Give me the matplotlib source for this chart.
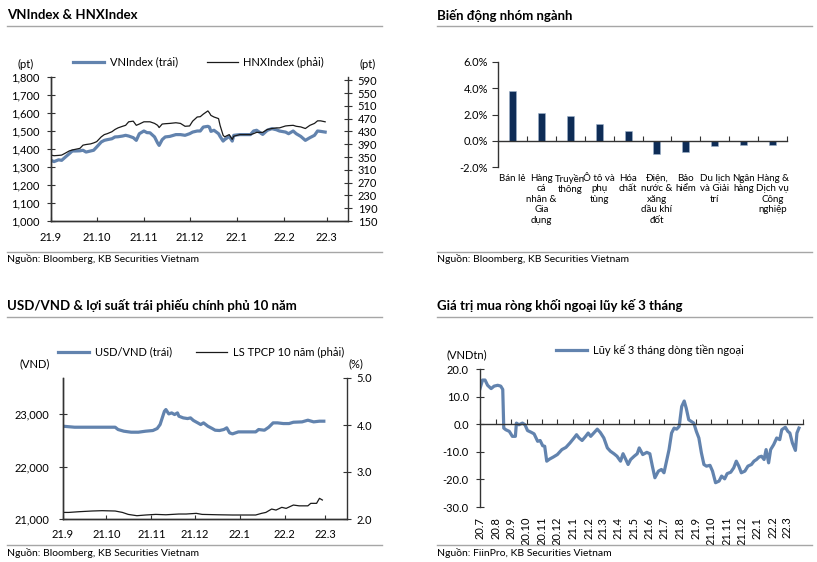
import matplotlib
matplotlib.use("Agg")
import matplotlib.pyplot as plt
import matplotlib.transforms as mtransforms
import pandas as pd
from matplotlib.lines import Line2D
from matplotlib.ticker import FuncFormatter

plt.rcParams["font.family"] = ["Lato", "Noto Sans", "DejaVu Sans"]

W, H = 817, 562

# VNIndex & HNXIndex
index_dates = [
    "2021-09-01", "2021-09-03", "2021-09-06", "2021-09-08", "2021-09-10", "2021-09-13",
    "2021-09-15", "2021-09-17", "2021-09-20", "2021-09-22", "2021-09-24", "2021-09-27",
    "2021-09-29", "2021-10-01", "2021-10-04", "2021-10-06", "2021-10-08", "2021-10-11",
    "2021-10-13", "2021-10-15", "2021-10-18", "2021-10-20", "2021-10-22", "2021-10-25",
    "2021-10-27", "2021-10-29", "2021-11-01", "2021-11-03", "2021-11-05", "2021-11-08",
    "2021-11-10", "2021-11-11", "2021-11-13", "2021-11-15", "2021-11-18", "2021-11-22",
    "2021-11-25", "2021-11-28", "2021-12-01", "2021-12-03", "2021-12-06", "2021-12-08",
    "2021-12-10", "2021-12-13", "2021-12-14", "2021-12-15", "2021-12-17", "2021-12-20",
    "2021-12-21", "2021-12-23", "2021-12-24", "2021-12-27", "2021-12-29", "2021-12-30",
    "2022-01-03", "2022-01-06", "2022-01-10", "2022-01-12", "2022-01-14", "2022-01-18",
    "2022-01-21", "2022-01-24", "2022-01-27", "2022-01-29", "2022-02-02", "2022-02-04",
    "2022-02-07", "2022-02-09", "2022-02-12", "2022-02-15", "2022-02-18", "2022-02-21",
    "2022-02-23", "2022-02-25", "2022-02-28",
]
vn_index = [
    1337, 1330, 1340, 1337, 1352, 1374, 1389, 1389, 1390, 1393, 1383, 1389,
    1393, 1411, 1439, 1448, 1452, 1457, 1467, 1468, 1472, 1476, 1472, 1463,
    1448, 1485, 1500, 1491, 1490, 1467, 1433, 1420, 1452, 1467, 1470, 1480,
    1480, 1476, 1485, 1494, 1500, 1500, 1522, 1526, 1522, 1498, 1504, 1485,
    1470, 1444, 1452, 1470, 1444, 1476, 1480, 1480, 1480, 1500, 1504, 1481,
    1504, 1513, 1507, 1500, 1494, 1485, 1500, 1485, 1470, 1448, 1463, 1476,
    1500, 1498, 1494,
]
hnx_index = [
    356, 354, 355, 356, 361, 369, 372, 374, 377, 387, 389, 391,
    394, 398, 413, 420, 423, 429, 436, 441, 446, 449, 460, 462,
    449, 453, 460, 460, 460, 455, 449, 442, 453, 454, 455, 457,
    455, 446, 447, 462, 475, 476, 484, 494, 488, 480, 475, 470,
    449, 418, 413, 420, 405, 415, 420, 420, 420, 423, 427, 427,
    436, 439, 441, 441, 447, 448, 449, 446, 444, 439, 449, 455,
    463, 463, 460,
]
index_months = ["21.9", "21.10", "21.11", "21.12", "22.1", "22.2", "22.3"]

# sector performance
sectors = [
    "Bán lẻ", "Hàng\ncá\nnhân &\nGia\ndụng", "Truyền\nthông", "Ô tô và\nphụ\ntùng",
    "Hóa\nchất", "Điện,\nnước &\nxăng\ndầu khí\nđốt", "Bảo\nhiểm",
    "Du lịch\nvà Giải\ntrí", "Ngân\nhàng", "Hàng &\nDịch vụ\nCông\nnghiệp",
]
sector_change = [3.8, 2.15, 1.9, 1.3, 0.75, -0.98, -0.83, -0.4, -0.3, -0.3]

# USD/VND and 10y government bond yield
fx_dates = [
    "2021-09-01", "2021-09-09", "2021-09-21", "2021-10-07", "2021-10-09", "2021-10-13",
    "2021-10-18", "2021-10-23", "2021-10-28", "2021-11-02", "2021-11-05", "2021-11-07",
    "2021-11-10", "2021-11-11", "2021-11-13", "2021-11-15", "2021-11-17", "2021-11-19",
    "2021-11-20", "2021-11-23", "2021-11-26", "2021-11-28", "2021-11-30", "2021-12-03",
    "2021-12-05", "2021-12-07", "2021-12-10", "2021-12-13", "2021-12-15", "2021-12-18",
    "2021-12-21", "2021-12-23", "2021-12-25", "2021-12-27", "2021-12-31", "2022-01-04",
    "2022-01-12", "2022-01-14", "2022-01-18", "2022-01-21", "2022-01-24", "2022-01-27",
    "2022-01-31", "2022-02-04", "2022-02-07", "2022-02-13", "2022-02-17", "2022-02-21",
    "2022-02-25", "2022-02-28",
]
usd_vnd = [
    22770, 22751, 22751, 22751, 22707, 22675, 22656, 22656, 22675, 22688, 22726, 22802,
    23056, 23088, 23005, 23024, 22993, 23024, 22961, 22929, 22916, 22929, 22880, 22834,
    22802, 22834, 22770, 22726, 22694, 22688, 22707, 22739, 22643, 22624, 22662, 22662,
    22662, 22707, 22694, 22751, 22834, 22834, 22821, 22821, 22846, 22853, 22885, 22853,
    22866, 22866,
]
bond_dates = [
    "2021-09-01", "2021-09-05", "2021-09-12", "2021-09-21", "2021-09-28", "2021-10-07",
    "2021-10-12", "2021-10-16", "2021-10-22", "2021-10-28", "2021-11-04", "2021-11-11",
    "2021-11-20", "2021-11-25", "2021-12-02", "2021-12-06", "2021-12-17", "2021-12-27",
    "2022-01-05", "2022-01-12", "2022-01-16", "2022-01-19", "2022-01-23", "2022-01-26",
    "2022-01-30", "2022-02-02", "2022-02-07", "2022-02-11", "2022-02-17", "2022-02-19",
    "2022-02-23", "2022-02-25", "2022-02-27",
]
bond_yield = [
    2.14, 2.14, 2.155, 2.17, 2.177, 2.17, 2.14, 2.098, 2.07, 2.085, 2.098, 2.09,
    2.106, 2.106, 2.12, 2.098, 2.09, 2.085, 2.085, 2.085, 2.12, 2.14, 2.212, 2.19,
    2.248, 2.226, 2.297, 2.28, 2.28, 2.333, 2.333, 2.44, 2.404,
]

# foreign net buying, 3-month cumulative
flow_dates = [
    "2020-07-01", "2020-07-06", "2020-07-11", "2020-07-16", "2020-07-23", "2020-07-29",
    "2020-08-05", "2020-08-11", "2020-08-15", "2020-08-17", "2020-08-21", "2020-08-28",
    "2020-09-03", "2020-09-09", "2020-09-11", "2020-09-16", "2020-09-23", "2020-09-28",
    "2020-10-03", "2020-10-10", "2020-10-16", "2020-10-23", "2020-10-28", "2020-11-02",
    "2020-11-06", "2020-11-10", "2020-11-16", "2020-11-23", "2020-12-01", "2020-12-10",
    "2020-12-18", "2020-12-26", "2021-01-03", "2021-01-08", "2021-01-13", "2021-01-19",
    "2021-01-26", "2021-01-31", "2021-02-05", "2021-02-11", "2021-02-18", "2021-02-24",
    "2021-03-03", "2021-03-10", "2021-03-16", "2021-03-23", "2021-03-29", "2021-04-05",
    "2021-04-10", "2021-04-15", "2021-04-20", "2021-04-25", "2021-05-02", "2021-05-08",
    "2021-05-12", "2021-05-19", "2021-05-27", "2021-06-02", "2021-06-07", "2021-06-12",
    "2021-06-19", "2021-06-25", "2021-06-30", "2021-07-05", "2021-07-10", "2021-07-15",
    "2021-07-20", "2021-07-25", "2021-07-30", "2021-08-04", "2021-08-09", "2021-08-13",
    "2021-08-18", "2021-08-23", "2021-08-28", "2021-09-02", "2021-09-07", "2021-09-12",
    "2021-09-17", "2021-09-22", "2021-09-29", "2021-10-04", "2021-10-10", "2021-10-17",
    "2021-10-22", "2021-10-28", "2021-11-02", "2021-11-09", "2021-11-15", "2021-11-20",
    "2021-11-25", "2021-11-30", "2021-12-07", "2021-12-13", "2021-12-20", "2021-12-25",
    "2021-12-30", "2022-01-04", "2022-01-09", "2022-01-14", "2022-01-18", "2022-01-23",
    "2022-01-27", "2022-02-02", "2022-02-08", "2022-02-14", "2022-02-18", "2022-02-25",
    "2022-03-02", "2022-03-06", "2022-03-11", "2022-03-17", "2022-03-20", "2022-03-24",
]
foreign_flow = [
    12.9, 16.0, 16.0, 14.1, 12.9, 13.8, 14.1, 13.8, 12.6, -1.4, -2.0, -2.6,
    -4.4, -4.4, 0.4, -0.2, 0.4, -0.2, -2.3, -2.9, -3.5, -6.2, -5.9, -7.8,
    -8.0, -13.4, -12.6, -11.9, -11.0, -9.2, -8.4, -6.8, -5.0, -3.8, -5.0, -5.9,
    -4.4, -3.2, -4.4, -3.2, -1.8, -3.0, -5.0, -8.6, -9.8, -10.7, -11.6, -13.4,
    -10.7, -12.6, -14.6, -12.8, -11.6, -10.7, -8.6, -11.0, -10.2, -10.7, -15.2, -19.4,
    -17.0, -16.4, -17.6, -13.4, -9.2, -3.2, -1.4, -1.8, -0.8, 6.4, 8.4, 5.8,
    1.6, 1.0, 0.4, -2.6, -5.0, -10.4, -14.6, -15.2, -14.9, -17.0, -21.2, -20.6,
    -18.8, -19.8, -17.9, -17.4, -15.8, -13.4, -15.2, -17.6, -17.0, -15.2, -14.6, -13.4,
    -12.8, -11.9, -11.6, -12.8, -9.2, -14.0, -9.2, -7.4, -5.0, -5.6, -2.0, -1.1,
    -2.6, -3.2, -6.8, -9.5, -3.2, -1.4,
]
flow_months = [
    "20.7", "20.8", "20.9", "20.10", "20.11", "20.12", "21.1", "21.2", "21.3", "21.4",
    "21.5", "21.6", "21.7", "21.8", "21.9", "21.10", "21.11", "21.12", "22.1", "22.2", "22.3",
]

BLUE = "#6283ae"
DARK = "#1a1a1a"
NAVY = "#0e2c56"
RULE = "#a6a6a6"


def fx(px):
    return px / W


def fy(py):
    return 1 - py / H


def axes_px(fig, left, top, right, bottom):
    return fig.add_axes([left / W, 1 - bottom / H, (right - left) / W, (bottom - top) / H])


def panel_frame(fig, x0, x1, y_top, title, y_bottom, source):
    fig.text(fx(x0), fy(y_top - 11), title, fontsize=9.5, fontweight="bold", va="center")
    fig.add_artist(Line2D([fx(x0), fx(x1)], [fy(y_top)] * 2, color=RULE, lw=1))
    fig.add_artist(Line2D([fx(x0), fx(x1)], [fy(y_bottom)] * 2, color=RULE, lw=1))
    fig.text(fx(x0), fy(y_bottom + 7.5), source, fontsize=7.5, va="center")


def style_axes(ax):
    for s in ax.spines.values():
        s.set_color("#333333")
        s.set_linewidth(1)
    ax.tick_params(labelsize=8, colors="#333333", labelcolor="black")


def legend_px(fig, handles, labels, x, y, spacing):
    fig.legend(handles, labels, loc="center left", bbox_to_anchor=(fx(x), fy(y)),
               ncol=len(labels), frameon=False, fontsize=8, handlelength=2.8,
               handletextpad=0.5, columnspacing=spacing, borderpad=0, borderaxespad=0)


def draw_index(fig):
    dates = pd.to_datetime(index_dates)
    months = pd.date_range("2021-09-01", periods=len(index_months), freq="MS")
    ax = axes_px(fig, 51, 77, 348, 221)
    ax.plot(dates, vn_index, color=BLUE, lw=2.3)
    ax.set_ylim(1000, 1800)
    ax.set_yticks(range(1000, 1801, 100))
    ax.yaxis.set_major_formatter(FuncFormatter(lambda v, p: f"{v:,.0f}"))
    ax.set_xlim(pd.Timestamp("2021-09-01"), pd.Timestamp("2022-03-15"))
    ax.set_xticks(months)
    ax.set_xticklabels(index_months)
    axr = ax.twinx()
    axr.plot(dates, hnx_index, color=DARK, lw=0.9)
    axr.set_ylim(150, 600)
    axr.set_yticks(range(150, 591, 40))
    for a in (ax, axr):
        style_axes(a)
        a.spines["top"].set_visible(False)
    ax.spines["right"].set_visible(False)
    ax.tick_params(axis="y", direction="inout", length=6, pad=5)
    ax.tick_params(axis="x", direction="in", length=3, pad=8)
    axr.tick_params(axis="y", direction="inout", length=6, pad=4)
    legend_px(fig, [Line2D([], [], color=BLUE, lw=2.3), Line2D([], [], color=DARK, lw=0.9)],
              ["VNIndex (trái)", "HNXIndex (phải)"], 73, 62, 2.6)
    fig.text(fx(26), fy(64), "(pt)", fontsize=8, ha="center", va="center")
    fig.text(fx(368), fy(64), "(pt)", fontsize=8, ha="center", va="center")


def draw_sectors(fig):
    ax = axes_px(fig, 498, 62, 787, 167)
    pos = list(range(len(sectors)))
    ax.bar(pos, sector_change, width=0.24, color=NAVY, edgecolor="#9fb3cc", linewidth=0.4)
    ax.set_xlim(-0.5, len(sectors) - 0.5)
    ax.set_ylim(-2, 6)
    ax.set_yticks([-2, 0, 2, 4, 6])
    ax.yaxis.set_major_formatter(FuncFormatter(lambda v, p: f"{v:.1f}%"))
    style_axes(ax)
    ax.spines["top"].set_visible(False)
    ax.spines["right"].set_visible(False)
    ax.spines["bottom"].set_position(("data", 0))
    ax.set_xticks([p + 0.5 for p in pos[:-1]] + [len(sectors) - 0.5])
    ax.tick_params(axis="x", direction="in", length=3.5, labelbottom=False)
    ax.tick_params(axis="y", direction="out", length=4, pad=3)
    trans = mtransforms.offset_copy(ax.get_xaxis_transform(), fig=fig, y=-5, units="points")
    for p, name in zip(pos, sectors):
        ax.text(p, 0, name, transform=trans, ha="center", va="top", fontsize=7,
                linespacing=1.2)


def draw_fx(fig):
    months = pd.date_range("2021-09-01", periods=len(index_months), freq="MS")
    ax = axes_px(fig, 63, 378, 347, 519)
    ax.plot(pd.to_datetime(fx_dates), usd_vnd, color=BLUE, lw=2.3)
    ax.set_ylim(21000, 23690)
    ax.set_yticks([21000, 22000, 23000])
    ax.yaxis.set_major_formatter(FuncFormatter(lambda v, p: f"{v:,.0f}"))
    ax.set_xlim(pd.Timestamp("2021-09-01"), pd.Timestamp("2022-03-16"))
    ax.set_xticks(months)
    ax.set_xticklabels(index_months)
    axr = ax.twinx()
    axr.plot(pd.to_datetime(bond_dates), bond_yield, color=DARK, lw=0.9)
    axr.set_ylim(2, 5)
    axr.set_yticks([2, 3, 4, 5])
    axr.yaxis.set_major_formatter(FuncFormatter(lambda v, p: f"{v:.1f}"))
    for a in (ax, axr):
        style_axes(a)
        a.spines["top"].set_visible(False)
    ax.spines["right"].set_visible(False)
    ax.tick_params(axis="y", direction="inout", length=6, pad=7)
    ax.tick_params(axis="x", direction="in", length=3, pad=7)
    axr.tick_params(axis="y", direction="inout", length=6, pad=4)
    legend_px(fig, [Line2D([], [], color=BLUE, lw=2.3), Line2D([], [], color=DARK, lw=0.9)],
              ["USD/VND (trái)", "LS TPCP 10 năm (phải)"], 58, 352, 2.2)
    fig.text(fx(35), fy(364), "(VND)", fontsize=8, ha="center", va="center")
    fig.text(fx(356), fy(364), "(%)", fontsize=8, ha="center", va="center")


def draw_flow(fig):
    months = pd.date_range("2020-07-01", periods=len(flow_months), freq="MS")
    ax = axes_px(fig, 480, 369, 803, 507)
    ax.plot(pd.to_datetime(flow_dates), foreign_flow, color=BLUE, lw=2.3)
    ax.set_ylim(-30, 20)
    ax.set_yticks(range(-30, 21, 10))
    ax.yaxis.set_major_formatter(FuncFormatter(lambda v, p: f"{v:.1f}"))
    ax.set_xlim(pd.Timestamp("2020-07-01"), pd.Timestamp("2022-04-01"))
    style_axes(ax)
    ax.spines["top"].set_visible(False)
    ax.spines["right"].set_visible(False)
    ax.spines["bottom"].set_position(("data", 0))
    ax.set_xticks(list(months) + [pd.Timestamp("2022-04-01")])
    ax.tick_params(axis="x", direction="in", length=3.5, labelbottom=False)
    ax.tick_params(axis="y", direction="inout", length=6, pad=5)
    trans = mtransforms.offset_copy(ax.get_xaxis_transform(), fig=fig, y=-7, units="points")
    for m, lab in zip(months, flow_months):
        ax.text(m, 0, lab, transform=trans, rotation=90, ha="center", va="top", fontsize=8)
    legend_px(fig, [Line2D([], [], color=BLUE, lw=2.3)], ["Lũy kế 3 tháng dòng tiền ngoại"],
              556, 350, 2.0)
    fig.text(fx(467), fy(355), "(VNDtn)", fontsize=8, ha="center", va="center")


def main():
    fig = plt.figure(figsize=(W / 100, H / 100), dpi=100)
    panel_frame(fig, 7, 382, 26, "VNIndex & HNXIndex", 252,
                "Nguồn: Bloomberg, KB Securities Vietnam")
    panel_frame(fig, 437, 812, 26, "Biến động nhóm ngành", 252,
                "Nguồn: Bloomberg, KB Securities Vietnam")
    panel_frame(fig, 7, 382, 317, "USD/VND & lợi suất trái phiếu chính phủ 10 năm", 545,
                "Nguồn: Bloomberg, KB Securities Vietnam")
    panel_frame(fig, 437, 812, 317, "Giá trị mua ròng khối ngoại lũy kế 3 tháng", 545,
                "Nguồn: FiinPro, KB Securities Vietnam")
    draw_index(fig)
    draw_sectors(fig)
    draw_fx(fig)
    draw_flow(fig)
    fig.savefig("out.png", dpi=100)


if __name__ == "__main__":
    main()
